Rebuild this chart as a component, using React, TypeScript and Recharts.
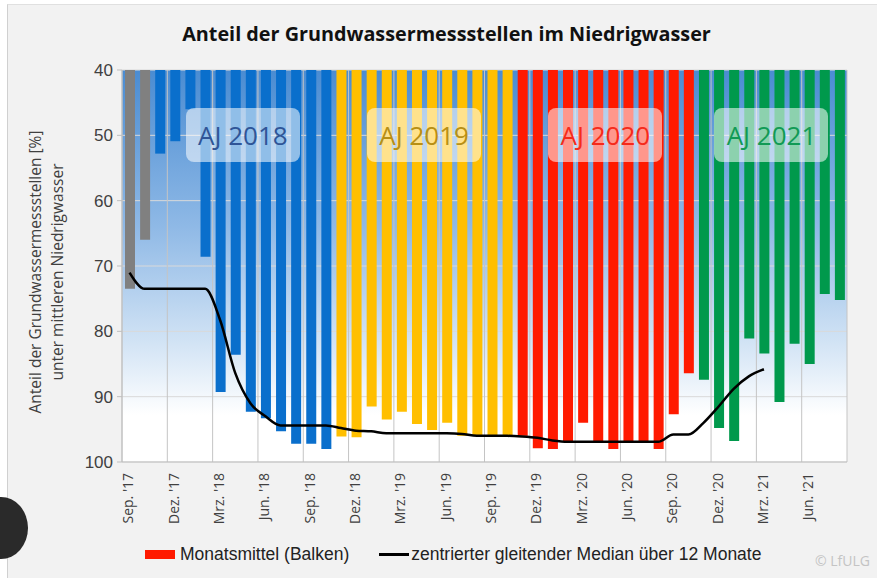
import React from 'react';
import { ComposedChart, Bar, Line, XAxis, YAxis, CartesianGrid, Cell } from 'recharts';

// Monate Sep. 2017 bis Aug. 2021
const monate = [
  "Sep. '17", "Okt. '17", "Nov. '17", "Dez. '17",
  "Jan. '18", "Feb. '18", "Mrz. '18", "Apr. '18", "Mai '18", "Jun. '18", "Jul. '18", "Aug. '18", "Sep. '18", "Okt. '18", "Nov. '18", "Dez. '18",
  "Jan. '19", "Feb. '19", "Mrz. '19", "Apr. '19", "Mai '19", "Jun. '19", "Jul. '19", "Aug. '19", "Sep. '19", "Okt. '19", "Nov. '19", "Dez. '19",
  "Jan. '20", "Feb. '20", "Mrz. '20", "Apr. '20", "Mai '20", "Jun. '20", "Jul. '20", "Aug. '20", "Sep. '20", "Okt. '20", "Nov. '20", "Dez. '20",
  "Jan. '21", "Feb. '21", "Mrz. '21", "Apr. '21", "Mai '21", "Jun. '21", "Jul. '21", "Aug. '21",
];

// Abflussjahr (Nov.–Okt.) je Monat
const abflussjahr = [
  '2017', '2017',
  '2018', '2018', '2018', '2018', '2018', '2018', '2018', '2018', '2018', '2018', '2018', '2018',
  '2019', '2019', '2019', '2019', '2019', '2019', '2019', '2019', '2019', '2019', '2019', '2019',
  '2020', '2020', '2020', '2020', '2020', '2020', '2020', '2020', '2020', '2020', '2020', '2020',
  '2021', '2021', '2021', '2021', '2021', '2021', '2021', '2021', '2021', '2021',
];

// Anteil in % (Monatsmittel)
const monatsmittel = [
  73.5, 66.0,
  52.8, 50.9, 46.0, 68.6, 89.3, 83.6, 92.3, 93.3, 95.3, 97.2, 97.2, 98.0,
  96.1, 96.2, 91.5, 93.5, 92.3, 94.2, 95.1, 94.0, 96.0, 96.0, 96.0, 96.0,
  96.0, 97.9, 98.0, 96.9, 94.0, 96.9, 98.0, 96.9, 96.9, 98.0, 92.7, 86.4,
  87.4, 94.8, 96.8, 81.1, 83.4, 90.8, 81.9, 85.0, 74.3, 75.2,
];

// zentrierter gleitender Median über 12 Monate
const median: (number | null)[] = [
  71.0, 73.5,
  73.5, 73.5, 73.5, 73.5, 78.3, 86.4, 91.0, 93.0, 94.4, 94.4, 94.4, 94.4,
  94.8, 95.2, 95.3, 95.6, 95.6, 95.6, 95.6, 95.6, 95.7, 96.0, 96.0, 96.0,
  96.1, 96.3, 96.7, 96.9, 96.9, 96.9, 96.9, 96.9, 96.9, 96.9, 95.8, 95.8,
  94.0, 91.5, 88.8, 86.9, 85.8, null, null, null, null, null,
];

const yTicks = [40, 50, 60, 70, 80, 90, 100];
const jahrBoxen = ['2018', '2019', '2020', '2021'];

const FARBEN: Record<string, string> = {
  '2017': '#808080',
  '2018': '#0a6fcc',
  '2019': '#ffbf00',
  '2020': '#ff1a00',
  '2021': '#00994c',
};
const TEXTFARBEN: Record<string, string> = {
  '2018': '#2f5597',
  '2019': '#b88f14',
  '2020': '#f52a1a',
  '2021': '#119a55',
};

const data = monate.map((m, i) => ({
  monat: m,
  jahr: abflussjahr[i],
  wert: monatsmittel[i],
  median: median[i],
}));

const W = 877;
const H = 578;
const M = { top: 70, right: 30, bottom: 60, left: 70 };
const Y_AXIS_W = 52;
const X_AXIS_H = 56;
const PLOT_L = M.left + Y_AXIS_W;
const PLOT_R = W - M.right;
const PLOT_T = M.top;
const PLOT_B = H - M.bottom - X_AXIS_H;
const CAT_W = (PLOT_R - PLOT_L) / monate.length;

const FONT = '"Open Sans", Lato, sans-serif';

const XTick = ({ x, y, payload }: any) => (
  <text
    x={x - 1}
    y={y + 3}
    transform={`rotate(-90, ${x - 1}, ${y + 3})`}
    textAnchor="end"
    dy="0.35em"
    fontSize={14}
    fill="#404040"
    fontFamily={FONT}
  >
    {payload.value}
  </text>
);

function JahrBox({ jahr }: { jahr: string }) {
  const idx = abflussjahr.map((j, i) => (j === jahr ? i : -1)).filter((i) => i >= 0);
  const mitte = (idx[0] + idx[idx.length - 1] + 1) / 2;
  const cx = PLOT_L + mitte * CAT_W;
  const cy = PLOT_T + ((50 - 40) / 60) * (PLOT_B - PLOT_T);
  return (
    <div
      style={{
        position: 'absolute',
        left: cx - 57,
        top: cy - 27,
        width: 114,
        height: 54,
        borderRadius: 8,
        background: 'rgba(255,255,255,0.55)',
        color: TEXTFARBEN[jahr],
        fontFamily: FONT,
        fontSize: 26,
        display: 'flex',
        alignItems: 'center',
        justifyContent: 'center',
        whiteSpace: 'nowrap',
      }}
    >
      AJ {jahr}
    </div>
  );
}

export default function App() {
  return (
    <div style={{ position: 'absolute', left: 0, top: 0, width: W, height: H, background: '#ffffff', overflow: 'hidden' }}>
      <div
        style={{
          position: 'absolute',
          left: 7,
          top: 4,
          width: W,
          height: H,
          background: '#f2f2f2',
          borderLeft: '1px solid #d0d0d0',
          borderTop: '1px solid #e0e0e0',
        }}
      />
      <div
        style={{
          position: 'absolute',
          left: 0,
          top: 20,
          width: W + 16,
          textAlign: 'center',
          fontFamily: FONT,
          fontWeight: 700,
          fontSize: 19.8,
          color: '#111',
        }}
      >
        Anteil der Grundwassermessstellen im Niedrigwasser
      </div>
      <div
        style={{
          position: 'absolute',
          left: 46,
          top: (PLOT_T + PLOT_B) / 2 + 6,
          transform: 'translate(-50%, -50%) rotate(-90deg)',
          textAlign: 'center',
          fontFamily: FONT,
          fontSize: 15.5,
          lineHeight: '22px',
          color: '#404040',
          whiteSpace: 'nowrap',
        }}
      >
        Anteil der Grundwassermessstellen [%]
        <br />
        unter mittleren Niedrigwasser
      </div>
      <div style={{ position: 'absolute', left: 0, top: 0 }}>
        <ComposedChart width={W} height={H} data={data} margin={M} barSize={10}>
          <defs>
            <linearGradient id="plotBg" x1="0" y1="0" x2="0" y2="1">
              <stop offset="0%" stopColor="#4a8cd2" />
              <stop offset="40%" stopColor="#8fb9e6" />
              <stop offset="70%" stopColor="#d3e4f5" />
              <stop offset="88%" stopColor="#ffffff" />
              <stop offset="100%" stopColor="#ffffff" />
            </linearGradient>
          </defs>
          <CartesianGrid vertical={false} stroke="#d9d9d9" fill="url(#plotBg)" fillOpacity={1} />
          <CartesianGrid
            horizontal={false}
            stroke="#c4c4c4"
            verticalCoordinatesGenerator={({ offset }: any) => {
              const pts: number[] = [];
              for (let i = 0; i <= monate.length; i += 3) {
                pts.push(offset.left + (i * offset.width) / monate.length);
              }
              return pts;
            }}
          />
          <XAxis
            dataKey="monat"
            interval={2}
            height={X_AXIS_H}
            tick={<XTick />}
            tickLine={false}
            axisLine={{ stroke: '#bfbfbf' }}
          />
          <YAxis
            domain={[40, 100]}
            ticks={yTicks}
            reversed
            width={Y_AXIS_W}
            tickSize={5}
            tickMargin={4}
            axisLine={{ stroke: '#bfbfbf' }}
            tickLine={{ stroke: '#bfbfbf' }}
            tick={{ fontSize: 17, fill: '#404040', fontFamily: '"Liberation Sans", Arial, sans-serif' }}
          />
          <Bar dataKey="wert" isAnimationActive={false}>
            {data.map((d, i) => (
              <Cell key={`c-${i}`} fill={FARBEN[d.jahr]} />
            ))}
          </Bar>
          <Line
            dataKey="median"
            type="monotone"
            stroke="#000000"
            strokeWidth={2.5}
            dot={false}
            connectNulls={false}
            isAnimationActive={false}
          />
        </ComposedChart>
      </div>
      {jahrBoxen.map((j) => (
        <JahrBox key={j} jahr={j} />
      ))}
      {/* Legende */}
      <div
        style={{
          position: 'absolute',
          left: 145,
          top: 544,
          display: 'flex',
          alignItems: 'center',
          fontFamily: '"Liberation Sans Narrow", "Liberation Sans", Arial, sans-serif',
          fontSize: 17.5,
          color: '#222',
          whiteSpace: 'nowrap',
        }}
      >
        <span style={{ display: 'inline-block', width: 30, height: 9, background: '#ff1a00', marginRight: 5 }} />
        <span>Monatsmittel (Balken)</span>
        <span style={{ display: 'inline-block', width: 30, height: 3, background: '#000', marginLeft: 30, marginRight: 2 }} />
        <span>zentrierter gleitender Median über 12 Monate</span>
      </div>
      <div
        style={{
          position: 'absolute',
          left: 815,
          top: 551,
          fontFamily: FONT,
          fontSize: 14,
          color: '#c4c4c4',
          whiteSpace: 'nowrap',
        }}
      >
        © LfULG
      </div>
      <div
        style={{
          position: 'absolute',
          left: -26,
          top: 497,
          width: 54,
          height: 62,
          borderRadius: '50%',
          background: '#2a2a2a',
        }}
      />
    </div>
  );
}
